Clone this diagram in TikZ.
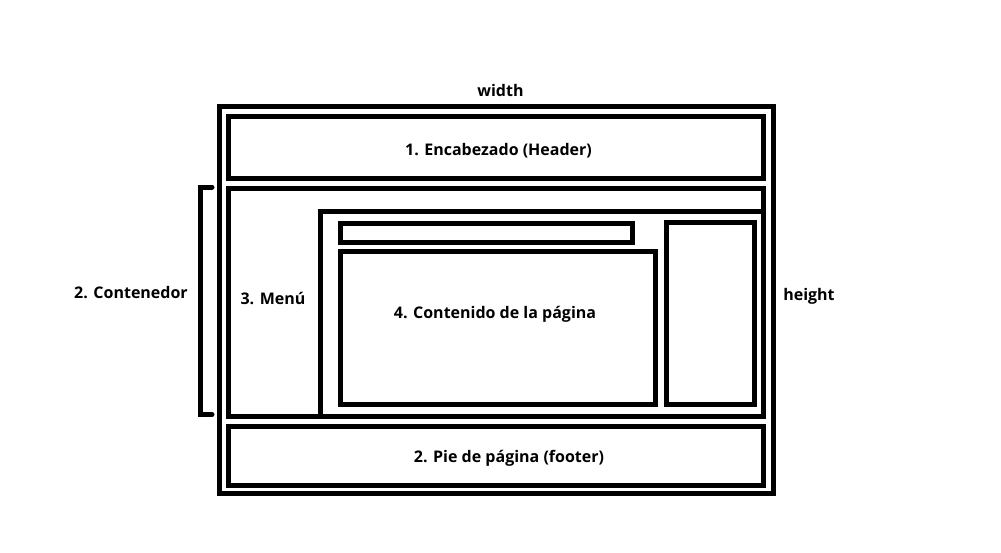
\documentclass[tikz,border=0pt]{standalone}
\usepackage{fontspec}
\setmainfont{Open Sans}
\begin{document}
\begin{tikzpicture}[x=1pt,y=-1pt,
  frame/.style={draw=black,line width=5pt},
  lbl/.style={font=\fontsize{16}{19}\selectfont\bfseries,inner sep=0pt,anchor=base}]
\useasboundingbox (0,0) rectangle (1001,552);
% page outline
\draw[frame] (219,106.5) rectangle (773,493.5);
% header
\draw[frame] (228.5,116.5) rectangle (763,178);
% container
\draw[frame] (228.5,188.5) rectangle (763,416.5);
% content wrapper
\draw[frame] (320.5,419) -- (320.5,211.5) -- (763,211.5);
% top bar
\draw[frame] (340.5,223.5) rectangle (632.5,242.5);
% main content
\draw[frame] (340.5,251) rectangle (655,404.5);
% sidebar
\draw[frame] (666.5,222.5) rectangle (754.5,404);
% footer
\draw[frame] (228.5,426) rectangle (763,485.5);
% bracket for the container
\draw[line width=5pt,line cap=round] (212,187) -- (200,187) -- (200,414.5) -- (212,414.5);
% labels
\node[lbl] (w) at (500.5,96.5) {width};
\node[lbl] (hd) at (498.5,155) {1. Encabezado (Header)};
\node[lbl] (ct) at (131,298.5) {2. Contenedor};
\node[lbl] (mn) at (273,304) {3. Menú};
\node[lbl] (cn) at (495,318.5) {4. Contenido de la página};
\node[lbl] (h) at (809,300.5) {height};
\node[lbl] (ft) at (509,462.5) {2. Pie de página (footer)};
\end{tikzpicture}
\end{document}
